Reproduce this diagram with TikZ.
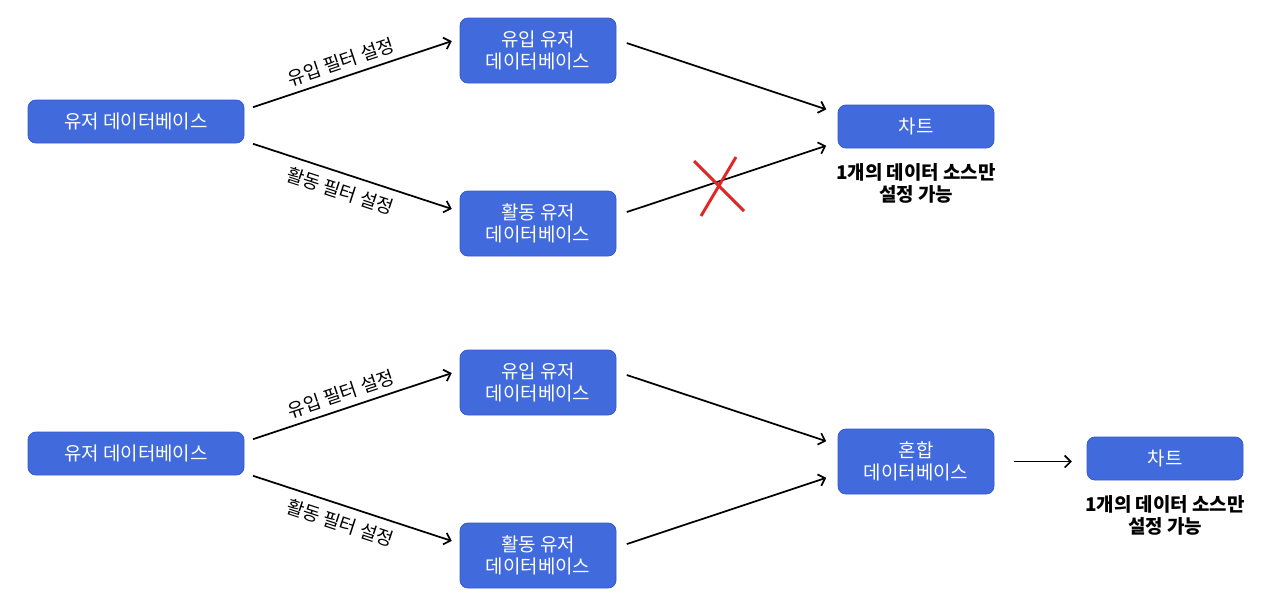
\documentclass[tikz,border=0pt]{standalone}
\usepackage{fontspec}
\setmainfont{Noto Sans CJK KR}
\usetikzlibrary{positioning,arrows.meta}
\definecolor{dbblue}{RGB}{65,106,220}
\definecolor{dbedge}{RGB}{52,90,205}
\definecolor{xred}{RGB}{226,38,38}
\begin{document}
\begin{tikzpicture}[x=0.75pt,y=-0.75pt,>={Straight Barb[length=4.5pt,width=9pt]},
    db/.style={draw=dbedge,fill=dbblue,text=white,rectangle,rounded corners=6pt,line width=0.6pt,
      minimum width=117pt,minimum height=48.75pt,align=center,inner sep=0pt,
      font=\fontsize{14.2}{16.5}\selectfont},
    dbs/.style={db,minimum height=32.25pt},
    arr/.style={line width=1.3pt,->,shorten <=6.8pt,shorten >=6.2pt},
    lbl/.style={font=\fontsize{14}{16}\selectfont,sloped,above,inner sep=4.5pt},
    note/.style={font=\fontsize{14.2}{16.5}\selectfont\bfseries,align=center,inner sep=0pt}]
        \useasboundingbox (0,0) rectangle (1280,612);
        %% Top: two databases into one chart
        \node[dbs,minimum width=162pt] (U1) at (136,121.5) {유저 데이터베이스};
        \node[db] (I1) at (538,50.5) {유입 유저\\데이터베이스};
        \node[db] (A1) at (538,223.5) {활동 유저\\데이터베이스};
        \node[dbs] (C1) at (916,126.5) {차트};
        \node[note,below=11pt of C1] (N1) {1개의 데이터 소스만\\설정 가능};
        \draw[arr] ([yshift=8.6pt]U1.east) -- ([yshift=9pt]I1.west) node[lbl,pos=0.47] {유입 필터 설정};
        \draw[arr] ([yshift=-14.6pt]U1.east) -- ([yshift=9pt]A1.west) node[lbl,below,pos=0.47,inner sep=6pt] {활동 필터 설정};
        \draw[arr,shorten <=8.2pt,shorten >=9pt] ([yshift=8.2pt]I1.east) -- ([yshift=10pt]C1.west);
        \draw[arr,shorten <=8.2pt,shorten >=9pt] ([yshift=6pt]A1.east) -- ([yshift=-11.6pt]C1.west);
        %% Cross
        \draw[xred,line width=2.2pt] (694,161) -- (744,211);
        \draw[xred,line width=2.2pt] (736,157) -- (701,216);
        %% Bottom: merged database into chart
        \node[dbs,minimum width=162pt] (U2) at (136,453.5) {유저 데이터베이스};
        \node[db] (I2) at (538,382.5) {유입 유저\\데이터베이스};
        \node[db] (A2) at (538,555.5) {활동 유저\\데이터베이스};
        \node[db] (M) at (916,461.5) {혼합\\데이터베이스};
        \node[dbs] (C2) at (1165,458.5) {차트};
        \node[note,below=11pt of C2] (N2) {1개의 데이터 소스만\\설정 가능};
        \draw[arr] ([yshift=8.6pt]U2.east) -- ([yshift=9pt]I2.west) node[lbl,pos=0.47] {유입 필터 설정};
        \draw[arr] ([yshift=-14.6pt]U2.east) -- ([yshift=9pt]A2.west) node[lbl,below,pos=0.47,inner sep=6pt] {활동 필터 설정};
        \draw[arr,shorten <=8.2pt,shorten >=9pt] ([yshift=8.2pt]I2.east) -- ([yshift=12.4pt]M.west);
        \draw[arr,shorten <=8.2pt,shorten >=9pt] ([yshift=6pt]A2.east) -- ([yshift=-9.4pt]M.west);
        \draw[arr,shorten <=15pt,shorten >=11pt] (M.east) -- (M.east -| C2.west);
    \end{tikzpicture}
\end{document}
